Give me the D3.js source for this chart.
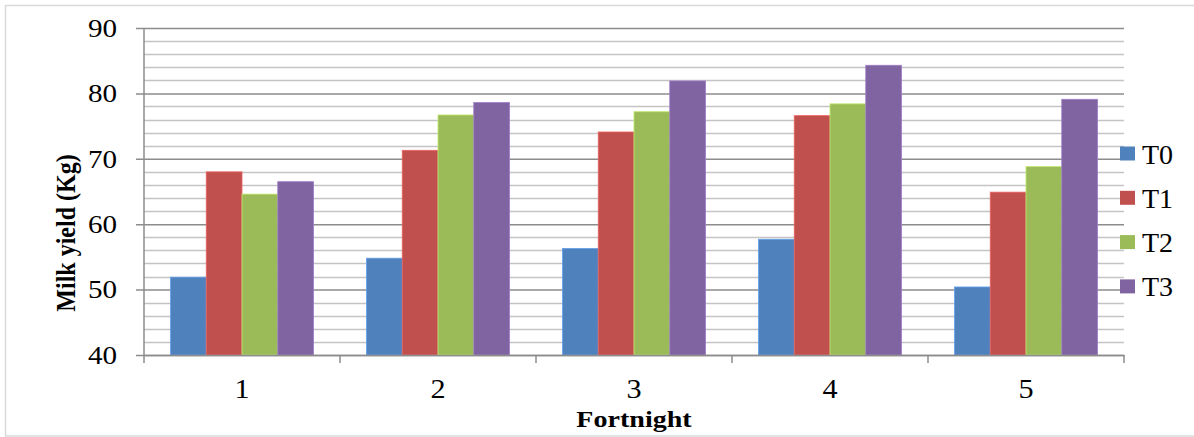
<!DOCTYPE html>
<html>
<head>
<meta charset="utf-8">
<script src="https://cdn.jsdelivr.net/npm/d3@7"></script>
<style>
  html, body { margin: 0; padding: 0; background: #fff; }
  svg { display: block; }
  text { font-family: "Liberation Serif", "Times New Roman", serif; fill: #000; }
</style>
</head>
<body>
<svg id="chart" width="1194" height="437"></svg>
<script>
// Milk yield per fortnight for each treatment
const fortnights = ["1", "2", "3", "4", "5"];
const treatments = ["T0", "T1", "T2", "T3"];
const T0 = [51.9, 54.8, 56.3, 57.7, 50.4];
const T1 = [68.0, 71.3, 74.1, 76.6, 64.9];
const T2 = [64.6, 76.7, 77.2, 78.4, 68.8];
const T3 = [66.5, 78.6, 81.9, 84.3, 79.1];
const seriesValues = [T0, T1, T2, T3];
const colors = ["#4F81BD", "#C0504D", "#9BBB59", "#8064A2"];
const yTicks = [40, 50, 60, 70, 80, 90];

const svg = d3.select("#chart");
const W = 1194;
const plot = { left: 144, right: 1124, top: 28, bottom: 355 };
const stretch = 1.12;   // slightly wide glyphs

// outer frame
svg.append("rect")
  .attr("x", 5.5).attr("y", 5.5)
  .attr("width", W + 10).attr("height", 430.5)
  .attr("fill", "none").attr("stroke", "#d9d9d9").attr("stroke-width", 1.5);

const x = d3.scaleBand().domain(fortnights).range([plot.left, plot.right]).paddingInner(0).paddingOuter(0);
const y = d3.scaleLinear().domain([40, 90]).range([plot.bottom, plot.top]);

// minor gridlines every 2 units
const minor = d3.range(42, 90, 2).filter(v => v % 10 !== 0);
svg.append("g").selectAll("line").data(minor).join("line")
  .attr("x1", plot.left).attr("x2", plot.right)
  .attr("y1", d => Math.round(y(d)) + 0.5).attr("y2", d => Math.round(y(d)) + 0.5)
  .attr("stroke", "#c4c4c4").attr("stroke-width", 1.6);

// major gridlines with y axis labels
const yAxis = d3.axisLeft(y).tickValues(yTicks).tickSize(plot.right - plot.left + 8).tickPadding(19).tickFormat(d3.format("d"));
const gy = svg.append("g").attr("transform", `translate(${plot.right},0)`).call(yAxis);
gy.select(".domain").remove();
gy.selectAll(".tick line").attr("stroke", "#8c8c8c").attr("stroke-width", 1.5);
gy.selectAll(".tick text")
  .attr("font-size", 26).attr("font-family", "Liberation Serif").attr("fill", "#000")
  .each(function () {
    const t = d3.select(this);
    const x0 = +t.attr("x");
    t.attr("x", 0).attr("transform", `translate(${x0},0) scale(${stretch},1)`);
  });

// y axis line
svg.append("line")
  .attr("x1", plot.left).attr("x2", plot.left)
  .attr("y1", plot.top).attr("y2", plot.bottom)
  .attr("stroke", "#8c8c8c").attr("stroke-width", 1.5);

// bars
const inner = d3.scaleBand().domain(treatments).range([0, x.bandwidth()]).paddingOuter(0.74).paddingInner(0);
const groups = svg.append("g").selectAll("g").data(fortnights).join("g")
  .attr("transform", d => `translate(${x(d)},0)`);
groups.selectAll("rect")
  .data((f, i) => treatments.map((t, k) => ({ t, k, v: seriesValues[k][i] })))
  .join("rect")
  .attr("x", d => inner(d.t))
  .attr("y", d => y(d.v))
  .attr("width", inner.bandwidth())
  .attr("height", d => y(40) - y(d.v))
  .attr("fill", d => colors[d.k])
  .attr("stroke", d => d3.color(colors[d.k]).brighter(0.6))
  .attr("stroke-width", 0.8);

// x axis
const xAxis = d3.axisBottom(x).tickSize(0).tickPadding(24);
const gx = svg.append("g").attr("transform", `translate(0,${plot.bottom})`).call(xAxis);
gx.select(".domain").attr("stroke", "#8c8c8c").attr("stroke-width", 1.5);
gx.selectAll(".tick text")
  .attr("font-size", 27).attr("font-family", "Liberation Serif").attr("fill", "#000")
  .attr("transform", `scale(${stretch},1)`)
  .attr("x", 0);
gx.selectAll(".tick").each(function () {
  // keep the stretched label centred on its tick
  d3.select(this).select("text").attr("transform", `scale(${stretch},1)`);
});
// category boundary ticks
const bounds = fortnights.map(f => x(f)).concat([plot.right]);
svg.append("g").selectAll("line").data(bounds).join("line")
  .attr("x1", d => d).attr("x2", d => d)
  .attr("y1", plot.bottom).attr("y2", plot.bottom + 8)
  .attr("stroke", "#8c8c8c").attr("stroke-width", 1.5);

// axis titles
svg.append("text")
  .attr("transform", `translate(75,233) scale(1.17,1) rotate(-90)`)
  .attr("text-anchor", "middle")
  .attr("font-size", 24).attr("font-weight", "bold")
  .text("Milk yield (Kg)");
svg.append("text")
  .attr("transform", `translate(${(plot.left + plot.right) / 2},427) scale(1.17,1)`)
  .attr("text-anchor", "middle")
  .attr("font-size", 24).attr("font-weight", "bold")
  .text("Fortnight");

// legend
const legend = svg.append("g").selectAll("g").data(treatments).join("g")
  .attr("transform", (d, i) => `translate(1120,${153.5 + i * 44.3})`);
legend.append("rect")
  .attr("x", 0).attr("y", -7).attr("width", 15).attr("height", 14)
  .attr("fill", (d, i) => colors[i]);
legend.append("text")
  .attr("x", 22).attr("y", 10)
  .attr("font-size", 28)
  .text(d => d);
</script>
</body>
</html>
